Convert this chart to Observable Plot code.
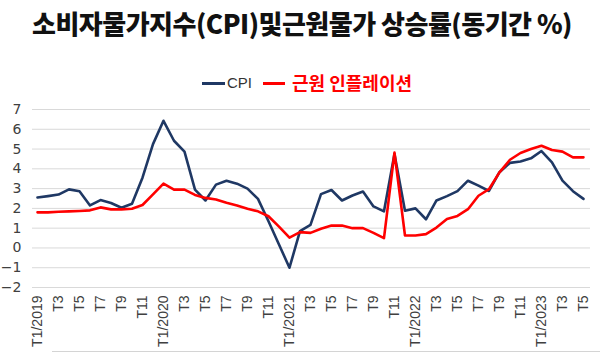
<!DOCTYPE html>
<html>
<head>
<meta charset="utf-8">
<script src="https://cdn.jsdelivr.net/npm/d3@7"></script>
<script src="https://cdn.jsdelivr.net/npm/@observablehq/plot@0.6"></script>
<style>
  html, body { margin: 0; padding: 0; background: #fff; }
  #wrap { position: relative; width: 600px; height: 354px; overflow: hidden; background: #fff; }
  #title { position: absolute; left: 0; top: 4px; width: 604px; text-align: center;
    font-family: "Noto Sans CJK KR", sans-serif; font-weight: 900; font-size: 26px; color: #111; letter-spacing: -0.5px; line-height: 38px; }
  .lg { position: absolute; top: 72px; height: 22px; line-height: 22px; white-space: nowrap; }
  .sw { position: absolute; height: 3px; top: 82px; }
  #chart { position: absolute; left: 0; top: 95px; }
  #frame { position: absolute; left: 52px; top: 351px; width: 548px; height: 1px; background: #d4d4d4; }
</style>
</head>
<body>
<div id="wrap">
  <div id="title">소비자물가지수(CPI)및근원물가 상승률(동기간 %)</div>
  <div class="sw" style="left:202px;width:23px;background:#1f3864;"></div>
  <div class="lg" style="left:227px;font-family:'Liberation Sans Narrow','Liberation Sans',sans-serif;font-size:15px;color:#333;">CPI</div>
  <div class="sw" style="left:263px;width:22px;background:#ff0000;"></div>
  <div class="lg" style="left:292px;font-family:'Noto Sans CJK KR',sans-serif;font-weight:700;font-size:18px;color:#ff0000;top:71px;">근원 인플레이션</div>
  <div id="chart"></div>
  <div id="frame"></div>
</div>
<script>
// Monthly, Jan 2019 .. May 2023
const tickLabels = ["T1/2019","T3","T5","T7","T9","T11",
  "T1/2020","T3","T5","T7","T9","T11",
  "T1/2021","T3","T5","T7","T9","T11",
  "T1/2022","T3","T5","T7","T9","T11",
  "T1/2023","T3","T5"];
const cpi = [2.55,2.62,2.7,2.96,2.87,2.15,2.42,2.27,2.03,2.23,3.55,5.25,6.43,
  5.42,4.87,2.95,2.4,3.2,3.4,3.25,3.0,2.48,1.35,0.17,-1.0,
  0.85,1.17,2.72,2.93,2.4,2.65,2.85,2.1,1.85,4.75,1.88,2.0,
  1.45,2.4,2.62,2.87,3.4,3.15,2.88,3.83,4.3,4.37,4.53,4.9,4.33,3.4,2.87,2.48];
const core = [1.8,1.8,1.83,1.85,1.87,1.9,2.05,1.95,1.95,1.98,2.17,2.71,3.25,
  2.95,2.95,2.68,2.53,2.45,2.28,2.15,1.98,1.85,1.6,1.08,0.52,
  0.8,0.76,0.97,1.13,1.13,1.0,1.0,0.76,0.5,4.82,0.63,0.63,
  0.7,1.03,1.46,1.62,1.96,2.64,2.97,3.82,4.46,4.8,5.0,5.17,4.95,4.87,4.58,4.58];
const yTicks = [-2,-1,0,1,2,3,4,5,6,7];

const tickIdx = tickLabels.map((_, k) => k * 2);
const cpiData = cpi.map((v, i) => ({i, v}));
const coreData = core.map((v, i) => ({i, v}));

const chart = Plot.plot({
  width: 600,
  height: 259,
  marginTop: 14,
  marginBottom: 67,
  marginLeft: 32,
  marginRight: 10,
  style: {fontFamily: "'DejaVu Sans', sans-serif", fontSize: "14px", color: "#404040", background: "#fff"},
  x: {domain: [-0.476, 52.67], axis: null},
  y: {domain: [-2, 7], axis: null},
  marks: [
    Plot.ruleY(yTicks, {stroke: "#d9d9d9", strokeWidth: 1}),
    Plot.axisY({ticks: yTicks, label: null, tickSize: 0, tickPadding: 11, fontSize: 14, fill: "#404040"}),
    Plot.axisX({ticks: tickIdx, label: null, tickFormat: i => tickLabels[i / 2], tickRotate: -90, tickSize: 0, tickPadding: 8,
      fontSize: 14, fontFamily: "'Liberation Sans Narrow','Liberation Sans',sans-serif", fill: "#404040"}),
    Plot.lineY(cpiData, {x: "i", y: "v", stroke: "#1f3864", strokeWidth: 2.6, strokeLinejoin: "round"}),
    Plot.lineY(coreData, {x: "i", y: "v", stroke: "#ff0000", strokeWidth: 2.6, strokeLinejoin: "round"})
  ]
});
document.getElementById("chart").appendChild(chart);
</script>
</body>
</html>
